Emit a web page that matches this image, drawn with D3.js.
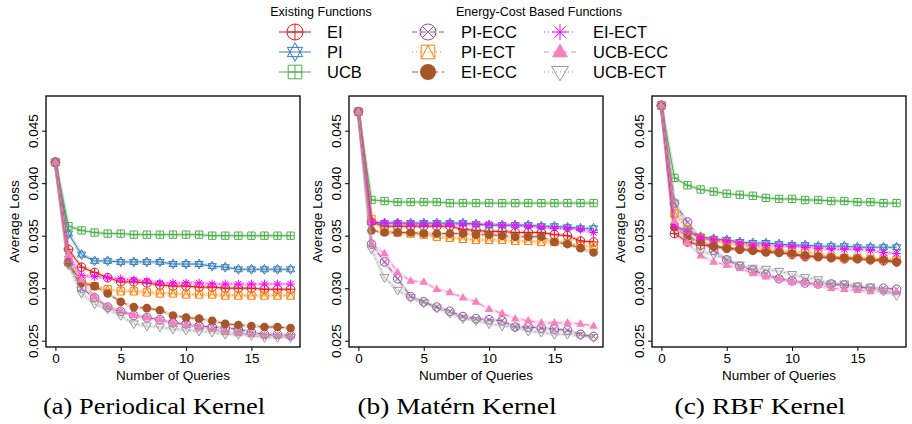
<!DOCTYPE html>
<html>
<head>
<meta charset="utf-8">
<script src="https://cdn.jsdelivr.net/npm/d3@7"></script>
<style>
  body { margin: 0; background: #fff; }
  svg text { font-family: "Liberation Sans", Arial, sans-serif; fill: #000; }
  .caption { font-family: "Liberation Serif", "Times New Roman", serif; }
</style>
</head>
<body>
<svg id="chart" width="912" height="424"></svg>
<script>
// x values (query index) and labels
const QUERIES = [0, 1, 2, 3, 4, 5, 6, 7, 8, 9, 10, 11, 12, 13, 14, 15, 16, 17, 18];
const SERIES = ["EI", "PI", "UCB", "PI-ECC", "PI-ECT", "EI-ECC", "EI-ECT", "UCB-ECC", "UCB-ECT"];
const X_TICKS = [0, 5, 10, 15];
const Y_TICKS = [0.025, 0.030, 0.035, 0.040, 0.045];
const CAPTIONS = ["(a) Periodical Kernel", "(b) Matérn Kernel", "(c) RBF Kernel"];

// (a) periodical kernel
const perEI    = [0.0420, 0.0337, 0.0320, 0.0315, 0.0310, 0.0306, 0.0306, 0.0305, 0.0303, 0.0302, 0.0302, 0.0301, 0.0301, 0.0300, 0.0300, 0.0300, 0.0299, 0.0299, 0.0299];
const perPI    = [0.0420, 0.0352, 0.0332, 0.0326, 0.0326, 0.0325, 0.0325, 0.0325, 0.0325, 0.0323, 0.0323, 0.0323, 0.0321, 0.0320, 0.0318, 0.0318, 0.0318, 0.0318, 0.0318];
const perUCB   = [0.0420, 0.0359, 0.0355, 0.0353, 0.0352, 0.0352, 0.0351, 0.0351, 0.0351, 0.0351, 0.0351, 0.0351, 0.0350, 0.0350, 0.0350, 0.0350, 0.0350, 0.0350, 0.0350];
const perPIECC = [0.0420, 0.0324, 0.0300, 0.0291, 0.0282, 0.0278, 0.0274, 0.0272, 0.0270, 0.0267, 0.0266, 0.0264, 0.0263, 0.0262, 0.0261, 0.0258, 0.0256, 0.0256, 0.0255];
const perPIECT = [0.0420, 0.0325, 0.0307, 0.0302, 0.0299, 0.0297, 0.0297, 0.0296, 0.0295, 0.0295, 0.0294, 0.0294, 0.0294, 0.0293, 0.0293, 0.0293, 0.0293, 0.0293, 0.0293];
const perEIECC = [0.0420, 0.0324, 0.0305, 0.0302, 0.0295, 0.0287, 0.0282, 0.0281, 0.0279, 0.0274, 0.0272, 0.0271, 0.0269, 0.0266, 0.0265, 0.0264, 0.0263, 0.0263, 0.0262];
const perEIECT = [0.0420, 0.0330, 0.0312, 0.0311, 0.0310, 0.0309, 0.0308, 0.0307, 0.0305, 0.0305, 0.0305, 0.0305, 0.0304, 0.0304, 0.0304, 0.0304, 0.0304, 0.0304, 0.0304];
const perUCBECC = [0.0420, 0.0332, 0.0308, 0.0292, 0.0282, 0.0278, 0.0274, 0.0272, 0.0270, 0.0267, 0.0265, 0.0263, 0.0261, 0.0258, 0.0257, 0.0256, 0.0255, 0.0255, 0.0254];
const perUCBECT = [0.0420, 0.0322, 0.0295, 0.0285, 0.0280, 0.0274, 0.0266, 0.0264, 0.0263, 0.0261, 0.0260, 0.0259, 0.0258, 0.0256, 0.0256, 0.0255, 0.0253, 0.0253, 0.0253];

// (b) matern kernel
const matEI    = [0.0468, 0.0363, 0.0359, 0.0359, 0.0359, 0.0359, 0.0359, 0.0359, 0.0356, 0.0355, 0.0354, 0.0354, 0.0353, 0.0353, 0.0353, 0.0351, 0.0350, 0.0345, 0.0344];
const matPI    = [0.0468, 0.0363, 0.0362, 0.0362, 0.0362, 0.0362, 0.0362, 0.0362, 0.0362, 0.0361, 0.0360, 0.0360, 0.0360, 0.0360, 0.0359, 0.0359, 0.0358, 0.0357, 0.0357];
const matUCB   = [0.0468, 0.0384, 0.0383, 0.0382, 0.0382, 0.0382, 0.0382, 0.0381, 0.0381, 0.0381, 0.0381, 0.0381, 0.0381, 0.0381, 0.0381, 0.0381, 0.0381, 0.0381, 0.0381];
const matPIECC = [0.0468, 0.0342, 0.0325, 0.0309, 0.0292, 0.0287, 0.0282, 0.0278, 0.0273, 0.0271, 0.0270, 0.0269, 0.0263, 0.0263, 0.0262, 0.0261, 0.0260, 0.0256, 0.0254];
const matPIECT = [0.0468, 0.0366, 0.0354, 0.0353, 0.0352, 0.0351, 0.0349, 0.0348, 0.0347, 0.0346, 0.0346, 0.0346, 0.0345, 0.0345, 0.0344, 0.0344, 0.0343, 0.0340, 0.0340];
const matEIECC = [0.0468, 0.0355, 0.0353, 0.0353, 0.0353, 0.0352, 0.0352, 0.0352, 0.0352, 0.0351, 0.0351, 0.0350, 0.0349, 0.0349, 0.0349, 0.0344, 0.0342, 0.0338, 0.0334];
const matEIECT = [0.0468, 0.0363, 0.0362, 0.0362, 0.0361, 0.0361, 0.0361, 0.0361, 0.0361, 0.0361, 0.0361, 0.0360, 0.0360, 0.0359, 0.0358, 0.0357, 0.0357, 0.0356, 0.0353];
const matUCBECC = [0.0468, 0.0342, 0.0333, 0.0315, 0.0307, 0.0306, 0.0299, 0.0296, 0.0291, 0.0287, 0.0280, 0.0276, 0.0271, 0.0269, 0.0267, 0.0267, 0.0267, 0.0266, 0.0264];
const matUCBECT = [0.0468, 0.0337, 0.0310, 0.0298, 0.0291, 0.0286, 0.0281, 0.0276, 0.0271, 0.0269, 0.0266, 0.0264, 0.0263, 0.0259, 0.0258, 0.0256, 0.0256, 0.0255, 0.0253];

// (c) rbf kernel
const rbfEI    = [0.0474, 0.0352, 0.0344, 0.0341, 0.0340, 0.0338, 0.0337, 0.0336, 0.0335, 0.0334, 0.0332, 0.0330, 0.0330, 0.0329, 0.0328, 0.0328, 0.0327, 0.0326, 0.0325];
const rbfPI    = [0.0474, 0.0359, 0.0354, 0.0349, 0.0347, 0.0346, 0.0344, 0.0343, 0.0343, 0.0342, 0.0341, 0.0341, 0.0340, 0.0340, 0.0340, 0.0339, 0.0339, 0.0339, 0.0339];
const rbfUCB   = [0.0474, 0.0405, 0.0398, 0.0394, 0.0392, 0.0390, 0.0389, 0.0388, 0.0386, 0.0385, 0.0385, 0.0384, 0.0384, 0.0383, 0.0383, 0.0382, 0.0382, 0.0381, 0.0381];
const rbfPIECC = [0.0474, 0.0381, 0.0363, 0.0346, 0.0336, 0.0327, 0.0321, 0.0317, 0.0313, 0.0309, 0.0307, 0.0305, 0.0304, 0.0304, 0.0303, 0.0301, 0.0300, 0.0300, 0.0299];
const rbfPIECT = [0.0474, 0.0371, 0.0356, 0.0348, 0.0345, 0.0343, 0.0341, 0.0339, 0.0338, 0.0336, 0.0335, 0.0334, 0.0333, 0.0330, 0.0329, 0.0329, 0.0328, 0.0328, 0.0327];
const rbfEIECC = [0.0474, 0.0358, 0.0349, 0.0344, 0.0340, 0.0338, 0.0337, 0.0336, 0.0334, 0.0334, 0.0333, 0.0331, 0.0330, 0.0329, 0.0329, 0.0328, 0.0327, 0.0327, 0.0325];
const rbfEIECT = [0.0474, 0.0359, 0.0354, 0.0348, 0.0346, 0.0345, 0.0343, 0.0341, 0.0341, 0.0340, 0.0340, 0.0339, 0.0338, 0.0337, 0.0337, 0.0337, 0.0336, 0.0334, 0.0333];
const rbfUCBECC = [0.0474, 0.0364, 0.0343, 0.0331, 0.0325, 0.0322, 0.0319, 0.0314, 0.0311, 0.0309, 0.0306, 0.0305, 0.0303, 0.0300, 0.0299, 0.0298, 0.0297, 0.0297, 0.0296];
const rbfUCBECT = [0.0474, 0.0381, 0.0355, 0.0335, 0.0332, 0.0327, 0.0322, 0.0319, 0.0318, 0.0316, 0.0313, 0.0310, 0.0308, 0.0304, 0.0304, 0.0302, 0.0301, 0.0297, 0.0293];

const panelData = [
  [perEI, perPI, perUCB, perPIECC, perPIECT, perEIECC, perEIECT, perUCBECC, perUCBECT],
  [matEI, matPI, matUCB, matPIECC, matPIECT, matEIECC, matEIECT, matUCBECC, matUCBECT],
  [rbfEI, rbfPI, rbfUCB, rbfPIECC, rbfPIECT, rbfEIECC, rbfEIECT, rbfUCBECC, rbfUCBECT]
];

// styles per series
const colors = ["#E41A1C", "#377EB8", "#4DAF4A", "#984EA3", "#FF7F00", "#A65628", "#FF00FF", "#F781BF", "#999999"];
const dashes = [null, null, null, "5,4", "1,3", "6,4", "1,3", "5,4", "1,3"];
const shapes = ["circlePlus", "star", "squarePlus", "circleX", "squareTri", "dot", "asterisk", "triFill", "triDown"];

const svg = d3.select("#chart");

// draw an R-like plotting symbol centred at 0,0
function symbol(g, shape, r, color) {
  const line = p => g.append("path").attr("d", p).attr("fill", "none")
      .attr("stroke", color).attr("stroke-width", 1);
  const s = r * 0.85, h = r * 0.866;
  switch (shape) {
    case "circlePlus":
      g.append("circle").attr("r", r).attr("fill", "none").attr("stroke", color);
      line(`M${-r},0H${r}M0,${-r}V${r}`);
      break;
    case "circleX":
      g.append("circle").attr("r", r).attr("fill", "none").attr("stroke", color);
      line(`M${-r * .707},${-r * .707}L${r * .707},${r * .707}M${-r * .707},${r * .707}L${r * .707},${-r * .707}`);
      break;
    case "squarePlus":
      line(`M${-s},${-s}H${s}V${s}H${-s}Z M${-s},0H${s}M0,${-s}V${s}`);
      break;
    case "squareTri":
      line(`M${-s},${-s}H${s}V${s}H${-s}Z M${-s},${s}L0,${-s}L${s},${s}`);
      break;
    case "star":
      line(`M0,${-r * 1.15}L${h * 1.1},${r * .58}H${-h * 1.1}Z M0,${r * 1.15}L${h * 1.1},${-r * .58}H${-h * 1.1}Z`);
      break;
    case "dot":
      g.append("circle").attr("r", r).attr("fill", color);
      break;
    case "asterisk":
      line(`M${-r},0H${r}M0,${-r}V${r}M${-r * .707},${-r * .707}L${r * .707},${r * .707}M${-r * .707},${r * .707}L${r * .707},${-r * .707}`);
      break;
    case "triFill":
      g.append("path").attr("d", `M0,${-r * 1.1}L${r},${r * .65}H${-r}Z`).attr("fill", color);
      break;
    case "triDown":
      line(`M0,${r * 1.1}L${r * 1.05},${-r * .7}H${-r * 1.05}Z`);
      break;
  }
}

const plotTop = 96, plotBottom = 347, boxW = 254;
const lefts = [46, 349, 652];

const y = d3.scaleLinear().domain([0.0244, 0.0483]).range([plotBottom, plotTop]);

lefts.forEach((left, p) => {
  const x = d3.scaleLinear().domain([-0.72, 18.72]).range([left, left + boxW]);
  const g = svg.append("g");

  // series lines and points
  panelData[p].forEach((vals, i) => {
    const pts = QUERIES.map((q, k) => [x(q), y(vals[k])]);
    const path = d3.line()(pts);
    g.append("path").attr("d", path).attr("fill", "none")
        .attr("stroke", colors[i]).attr("stroke-width", 3.5).attr("stroke-opacity", 0.25);
    g.append("path").attr("d", path).attr("fill", "none")
        .attr("stroke", colors[i]).attr("stroke-width", 1)
        .attr("stroke-dasharray", dashes[i]);
    pts.forEach(pt => {
      const s = g.append("g").attr("transform", `translate(${pt[0]},${pt[1]})`);
      symbol(s, shapes[i], 4.3, colors[i]);
    });
  });

  // box
  g.append("rect").attr("x", left).attr("y", plotTop).attr("width", boxW).attr("height", plotBottom - plotTop)
      .attr("fill", "none").attr("stroke", "#000").attr("stroke-width", 1.3);

  // x axis
  const xa = g.append("g").attr("transform", `translate(0,${plotBottom})`)
      .call(d3.axisBottom(x).tickValues(X_TICKS).tickSize(4).tickSizeOuter(0).tickPadding(2));
  xa.select(".domain").remove();
  xa.selectAll("text").attr("font-size", 13.5).attr("font-family", "Liberation Sans, Arial, sans-serif");

  // y axis (rotated labels, R style)
  const ya = g.append("g").attr("transform", `translate(${left},0)`)
      .call(d3.axisLeft(y).tickValues(Y_TICKS).tickSize(4).tickFormat(d3.format(".3f")));
  ya.select(".domain").remove();
  ya.selectAll("text")
      .attr("font-size", 13.5).attr("font-family", "Liberation Sans, Arial, sans-serif")
      .attr("text-anchor", "middle").attr("x", null).attr("dy", null)
      .attr("transform", "translate(-8,0) rotate(-90)");

  g.append("text").attr("x", left + boxW / 2).attr("y", 380)
      .attr("text-anchor", "middle").attr("font-size", 13.5).text("Number of Queries");
  g.append("text").attr("transform", `translate(${left - 27},${(plotTop + plotBottom) / 2}) rotate(-90)`)
      .attr("text-anchor", "middle").attr("font-size", 13.5).text("Average Loss");

  svg.append("text").attr("class", "caption").attr("x", [154, 457, 760][p]).attr("y", 414)
      .attr("text-anchor", "middle").attr("font-size", 23)
      .attr("textLength", [222, 199, 171][p]).attr("lengthAdjust", "spacingAndGlyphs")
      .text(CAPTIONS[p]);
});

// legend
svg.append("text").attr("x", 321).attr("y", 16).attr("text-anchor", "middle")
    .attr("font-size", 12.5).text("Existing Functions");
svg.append("text").attr("x", 539).attr("y", 16).attr("text-anchor", "middle")
    .attr("font-size", 12.5).text("Energy-Cost Based Functions");

const legCols = [295, 428, 560];
const legText = [327, 461, 593];
const legRows = [32, 52, 72];
SERIES.forEach((name, i) => {
  const c = Math.floor(i / 3), r = i % 3;
  const cx = legCols[c], cy = legRows[r];
  svg.append("line").attr("x1", cx - 16).attr("x2", cx + 16).attr("y1", cy).attr("y2", cy)
      .attr("stroke", colors[i]).attr("stroke-width", 1).attr("stroke-dasharray", dashes[i]);
  const s = svg.append("g").attr("transform", `translate(${cx},${cy})`);
  symbol(s, shapes[i], 8, colors[i]);
  svg.append("text").attr("x", legText[c]).attr("y", cy + 6).attr("font-size", 16.5).text(name);
});
</script>
</body>
</html>
